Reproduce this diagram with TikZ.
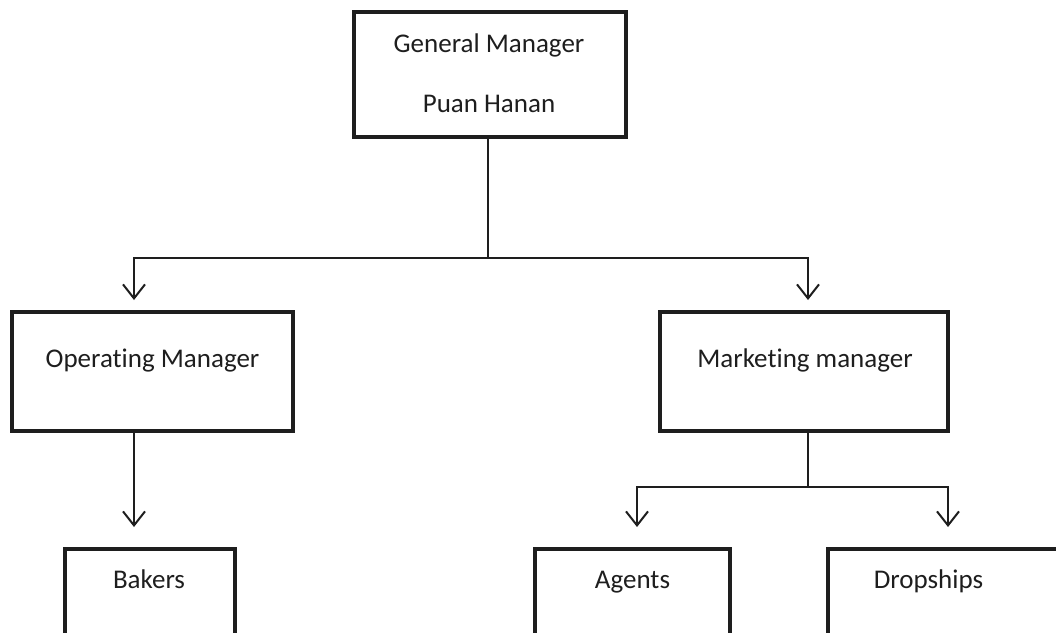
\documentclass[tikz,border=0pt]{standalone}
\usepackage{fontspec}
\setmainfont[Ligatures=NoCommon]{Carlito}
\usetikzlibrary{arrows.meta}
\definecolor{ink}{HTML}{1E1E1E}
\begin{document}
\begin{tikzpicture}[x=1pt,y=-1pt,
  box/.style={draw=ink,line width=3.4pt,minimum width=#1,inner sep=0pt},
  lbl/.style={text=ink,font=\fontsize{27}{32}\selectfont,inner sep=0pt,anchor=base},
  conn/.style={draw=ink,line width=1.6pt},
  arr/.style={conn,-{Straight Barb[length=14pt,width=22pt,line width=2pt]}}]
\useasboundingbox (0,0) rectangle (1056,632);
% boxes
\node[box=272pt,minimum height=125pt] (gm) at (490,74.5) {};
\node[lbl] (gmt) at (489,52) {General Manager};
\node[lbl] (gmt2) at (489,112) {Puan Hanan};
\node[box=281pt,minimum height=119pt] (om) at (152.5,371.5) {};
\node[lbl] (omt) at (152.5,367) {Operating Manager};
\node[box=288pt,minimum height=119pt] (mm) at (804,371.5) {};
\node[lbl] (mmt) at (805,367) {Marketing manager};
\node[box=170pt,minimum height=130pt] (bk) at (150,614) {};
\node[lbl] (bkt) at (149,588) {Bakers};
\node[box=195pt,minimum height=130pt] (ag) at (632.5,614) {};
\node[lbl] (agt) at (632.5,588) {Agents};
\node[box=250pt,minimum height=130pt] (ds) at (953,614) {};
\node[lbl] (dst) at (928.5,588) {Dropships};
% junction coordinates
\coordinate (j1) at (488,258);
\coordinate (a1) at (134,300);
\coordinate (a2) at (808,300);
\coordinate (j2) at (808,487);
\coordinate (b1) at (134,527);
\coordinate (c1) at (637,527);
\coordinate (c2) at (948,527);
% connectors
\draw[conn] (j1 |- gm.south) -- (j1);
\draw[arr] (j1) -| (a1);
\draw[arr] (j1) -| (a2);
\draw[arr] (b1 |- om.south) -- (b1);
\draw[conn] (j2 |- mm.south) -- (j2);
\draw[arr] (j2) -| (c1);
\draw[arr] (j2) -| (c2);
\end{tikzpicture}
\end{document}
